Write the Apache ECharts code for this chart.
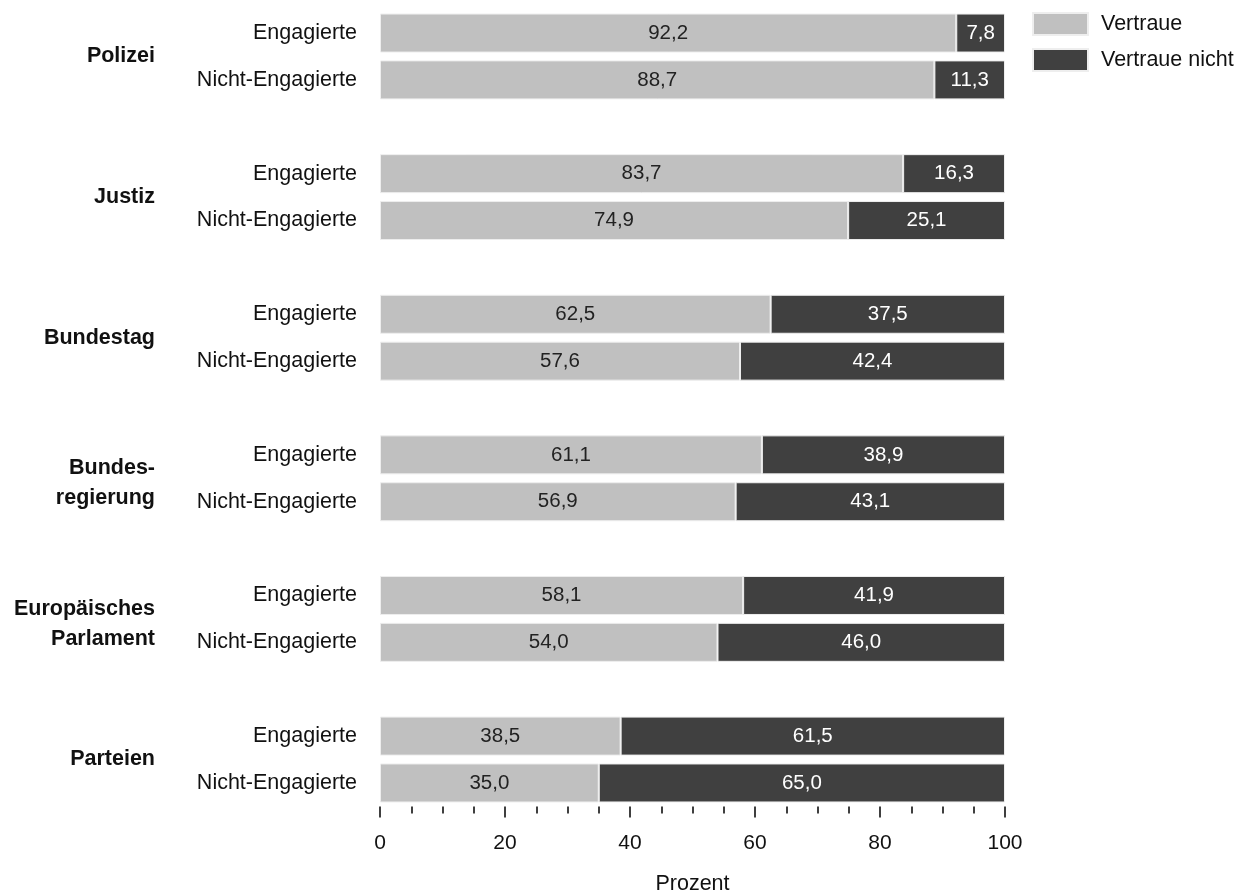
<!DOCTYPE html>
<html>
<head>
<meta charset="utf-8">
<script src="https://cdn.jsdelivr.net/npm/echarts@6/dist/echarts.min.js"></script>
<style>
html,body{margin:0;padding:0;background:#fff;}
#chart{width:1250px;height:893px;}
</style>
</head>
<body>
<div id="chart"></div>
<script>
const groups = ['Polizei', 'Justiz', 'Bundestag', 'Bundes-\nregierung', 'Europäisches\nParlament', 'Parteien'];
const subgroups = ['Engagierte', 'Nicht-Engagierte'];
const trustEngagiert = [92.2, 83.7, 62.5, 61.1, 58.1, 38.5];
const trustNicht = [88.7, 74.9, 57.6, 56.9, 54.0, 35.0];
const distrustEngagiert = [7.8, 16.3, 37.5, 38.9, 41.9, 61.5];
const distrustNicht = [11.3, 25.1, 42.4, 43.1, 46.0, 65.0];
const xTicks = [0, 20, 40, 60, 80, 100];
const seriesNames = ['Vertraue', 'Vertraue nicht'];
const axisName = 'Prozent';

// build slot arrays (two bars + one gap per group)
const slots = [], trust = [], distrust = [], groupSlots = [];
groups.forEach((g, i) => {
  slots.push(subgroups[0]); trust.push(trustEngagiert[i]); distrust.push(distrustEngagiert[i]);
  slots.push(subgroups[1]); trust.push(trustNicht[i]); distrust.push(distrustNicht[i]);
  if (i < groups.length - 1) { slots.push(''); trust.push('-'); distrust.push('-'); }
});
// boundary axis: slots.length+1 points, group label at boundary between its two bars
for (let j = 0; j <= slots.length; j++) groupSlots.push('');
groups.forEach((g, i) => { groupSlots[3 * i + 1] = g; });

const FONT = '"Liberation Sans", Arial, sans-serif';
const fmt = p => (typeof p.value === 'number' ? p.value.toFixed(1).replace('.', ',') : '');
const groupFmt = v => {
  if (!v) return '';
  const lines = v.split('\n').map(s => '{b|' + s + '}');
  return (lines.length > 1 ? '{s| }\n' : '') + lines.join('\n');
};

const chart = echarts.init(document.getElementById('chart'));
chart.setOption({
  animation: false,
  textStyle: { fontFamily: FONT },
  grid: { left: 380, right: 245, top: 9.6, bottom: 86.6, containLabel: false, outerBoundsMode: 'none' },
  legend: {
    orient: 'vertical', left: 1027, top: 7,
    itemWidth: 55, itemHeight: 22, itemGap: 12,
    icon: 'rect',
    textStyle: { fontSize: 21.5, color: '#111', fontFamily: FONT, padding: [0, 0, 0, 8] },
    data: seriesNames
  },
  xAxis: {
    type: 'value', min: 0, max: 100, interval: 20,
    axisLine: { show: false },
    axisTick: { show: true, length: 11, lineStyle: { color: '#000', width: 1.5 } },
    minorTick: { show: true, splitNumber: 4, length: 7, lineStyle: { color: '#000', width: 1.5 } },
    splitLine: { show: false },
    axisLabel: { fontSize: 21, color: '#111', margin: 26, fontFamily: FONT,
      formatter: v => (xTicks.indexOf(v) >= 0 ? String(v) : '') },
    name: axisName, nameLocation: 'middle', nameGap: 67,
    nameTextStyle: { fontSize: 21.5, color: '#111', fontFamily: FONT }
  },
  yAxis: [
    {
      type: 'category', inverse: true, data: slots,
      axisLine: { show: false }, axisTick: { show: false },
      axisLabel: { interval: 0, fontSize: 21.5, color: '#111', margin: 23, fontFamily: FONT }
    },
    {
      type: 'category', inverse: true, data: groupSlots, boundaryGap: false,
      position: 'left', offset: 220,
      axisLine: { show: false }, axisTick: { show: false },
      axisLabel: {
        interval: 0, margin: 5, align: 'right', formatter: groupFmt,
        fontSize: 21.5, fontWeight: 'bold', color: '#111', fontFamily: FONT,
        rich: {
          b: { fontSize: 21.5, fontWeight: 'bold', color: '#111', fontFamily: FONT, lineHeight: 30, align: 'right' },
          s: { fontSize: 8, lineHeight: 10, align: 'right' }
        }
      }
    }
  ],
  series: [
    {
      name: seriesNames[0], type: 'bar', stack: 'total', yAxisIndex: 0, barWidth: 39,
      data: trust,
      itemStyle: { color: '#c0c0c0', borderColor: '#eeeeee', borderWidth: 1 },
      label: { show: true, position: 'inside', fontSize: 20.5, color: '#222', fontFamily: FONT, formatter: fmt }
    },
    {
      name: seriesNames[1], type: 'bar', stack: 'total', yAxisIndex: 0, barWidth: 39,
      data: distrust,
      itemStyle: { color: '#404040', borderColor: '#eeeeee', borderWidth: 1 },
      label: { show: true, position: 'inside', fontSize: 20.5, color: '#fff', fontFamily: FONT, formatter: fmt }
    }
  ]
});
</script>
</body>
</html>
